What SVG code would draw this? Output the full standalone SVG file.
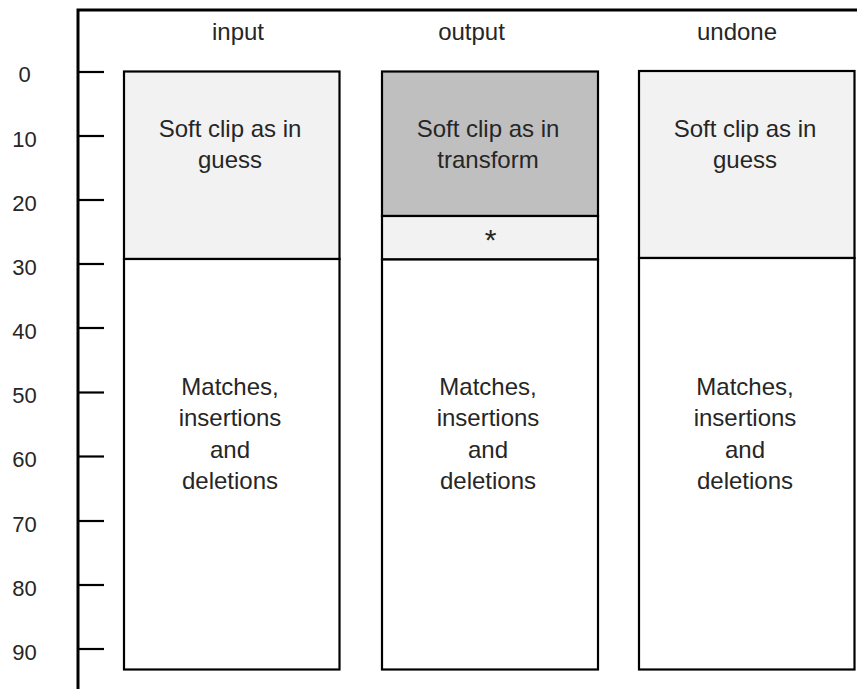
<svg xmlns="http://www.w3.org/2000/svg" width="857" height="689" viewBox="0 0 857 689">
<style>
text{font-family:"Liberation Sans",Arial,sans-serif;fill:#262626;text-anchor:middle}
.lbl{font-size:24px}
.ax{font-size:22px}
.star{font-size:30px}
.box{stroke:#000;stroke-width:2.2}
.light{fill:#f2f2f2}
.dark{fill:#bfbfbf}
.white{fill:#fff}
.tick{stroke:#000;stroke-width:2.2}
</style>
<rect width="857" height="689" fill="#fff"/>
<g id="axis">
<path d="M78 10 H857 M78 8.5 V689" stroke="#000" stroke-width="3" fill="none"/>
<g class="tick">
<line x1="78" y1="72" x2="104" y2="72"/>
<line x1="78" y1="136" x2="104" y2="136"/>
<line x1="78" y1="200" x2="104" y2="200"/>
<line x1="78" y1="264" x2="104" y2="264"/>
<line x1="78" y1="328" x2="104" y2="328"/>
<line x1="78" y1="392.5" x2="104" y2="392.5"/>
<line x1="78" y1="456.5" x2="104" y2="456.5"/>
<line x1="78" y1="521" x2="104" y2="521"/>
<line x1="78" y1="585" x2="104" y2="585"/>
<line x1="78" y1="649" x2="104" y2="649"/>
</g>
<g class="ax">
<text x="24.5" y="82">0</text>
<text x="24.5" y="146.5">10</text>
<text x="24.5" y="210.5">20</text>
<text x="24.5" y="274.5">30</text>
<text x="24.5" y="338.5">40</text>
<text x="24.5" y="403">50</text>
<text x="24.5" y="467">60</text>
<text x="24.5" y="531.5">70</text>
<text x="24.5" y="595.5">80</text>
<text x="24.5" y="660">90</text>
</g>
</g>
<g id="header" class="lbl">
<text x="238" y="40">input</text>
<text x="471.5" y="40">output</text>
<text x="737" y="40">undone</text>
</g>
<g id="col-input">
<rect class="box light" x="124" y="71.5" width="215.5" height="187.5"/>
<rect class="box white" x="124" y="259" width="215.5" height="410.5"/>
<g class="lbl">
<text x="230" y="137">Soft clip as in</text>
<text x="230" y="168">guess</text>
<text x="230" y="395">Matches,</text>
<text x="230" y="426">insertions</text>
<text x="230" y="457.5">and</text>
<text x="230" y="489">deletions</text>
</g>
</g>
<g id="col-output">
<rect class="box dark" x="382" y="71.5" width="216" height="144.5"/>
<rect class="box light" x="382" y="216" width="216" height="43.5"/>
<rect class="box white" x="382" y="259.5" width="216" height="410"/>
<g class="lbl">
<text x="488" y="137">Soft clip as in</text>
<text x="488" y="168">transform</text>
<text class="star" x="490.5" y="250">*</text>
<text x="488" y="395">Matches,</text>
<text x="488" y="426">insertions</text>
<text x="488" y="457.5">and</text>
<text x="488" y="489">deletions</text>
</g>
</g>
<g id="col-undone">
<rect class="box light" x="639" y="71" width="215.5" height="187"/>
<rect class="box white" x="639" y="258" width="215.5" height="411.5"/>
<g class="lbl">
<text x="745" y="137">Soft clip as in</text>
<text x="745" y="168">guess</text>
<text x="745" y="395">Matches,</text>
<text x="745" y="426">insertions</text>
<text x="745" y="457.5">and</text>
<text x="745" y="489">deletions</text>
</g>
</g>
</svg>
